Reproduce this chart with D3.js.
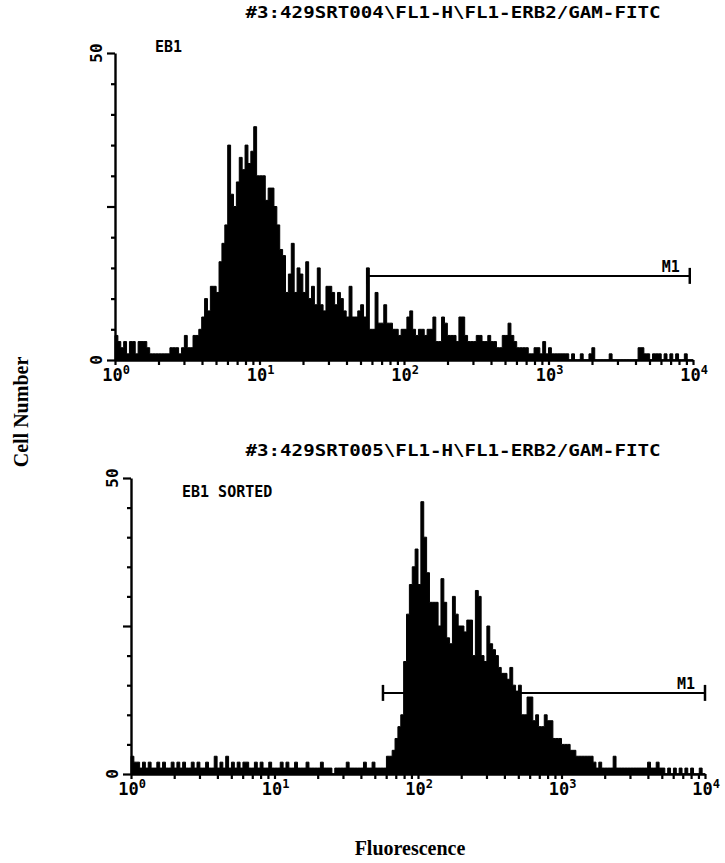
<!DOCTYPE html>
<html>
<head>
<meta charset="utf-8">
<script src="https://cdn.jsdelivr.net/npm/d3@7.9.0/dist/d3.min.js"></script>
<style>
  body { margin: 0; background: #fff; }
</style>
</head>
<body>
<script>
// histogram counts, 50 log bins per decade, 10^0 .. 10^4
const topCounts = [
  4,3,2,3,1,3,3,1,3,3,3,2,1,1,1,1,1,1,1,2,2,2,1,2,4,2,2,4,4,5,
  7,10,8,12,12,11,16,19,22,35,27,25,29,33,31,35,32,34,38,30,
  30,30,26,28,28,25,22,18,17,11,14,19,11,15,14,11,16,10,12,9,
  15,9,8,12,12,11,9,11,10,8,7,12,7,7,8,9,7,15,5,5,
  11,6,6,9,6,6,5,5,4,5,5,7,8,5,4,5,5,4,5,5,
  7,3,3,7,6,4,4,4,3,7,7,4,3,3,3,4,4,3,3,4,
  3,3,2,2,4,4,6,4,3,2,2,2,2,1,1,2,2,1,3,1,
  2,1,1,1,1,1,1,0,1,0,0,1,0,0,1,2,0,0,0,0,
  0,1,0,0,0,0,0,0,0,0,0,2,2,1,1,0,1,1,1,0,
  1,0,1,0,1,0,0,1,0,0
];
const bottomCounts = [
  3,2,2,1,2,1,2,1,1,2,1,2,1,1,2,1,2,1,2,1,
  1,2,1,2,1,1,2,1,1,3,1,2,1,3,1,2,1,2,1,2,
  2,1,1,2,1,2,1,1,2,1,1,1,2,1,2,1,1,2,1,1,
  1,2,1,1,1,1,2,1,1,1,0,1,1,1,1,2,1,1,1,1,
  1,2,1,1,2,1,1,1,1,3,3,4,6,8,10,19,27,32,35,38,
  32,46,40,34,29,29,29,25,33,29,23,22,30,27,25,25,24,26,26,20,
  31,30,20,19,25,22,21,20,18,17,17,16,18,15,14,15,10,10,13,13,
  9,10,8,8,10,9,9,6,6,6,5,5,5,4,4,3,3,3,3,3,
  3,2,1,2,1,1,1,1,3,1,1,1,1,1,1,1,1,1,1,1,
  2,1,1,2,1,1,0,1,0,1,0,1,0,1,0,1,0,0,1,0
];
const titles = ["#3:429SRT004\\FL1-H\\FL1-ERB2/GAM-FITC", "#3:429SRT005\\FL1-H\\FL1-ERB2/GAM-FITC"];
const sampleLabels = ["EB1", "EB1 SORTED"];
const gates = [[56, 9500], [57, 10000]];
const gateLevel = 13.7;
const gateName = "M1";
const decades = [0, 1, 2, 3, 4];
const countTicks = [0, 5, 10, 15, 20, 25, 30, 35, 40, 45, 50];
const countLabels = [0, 50];
const binsPerDecade = 50;

const W = 725, H = 863;
const mono = "'DejaVu Sans Mono', 'Liberation Mono', monospace";
const serif = "'Liberation Serif', 'DejaVu Serif', serif";

const svg = d3.select("body").append("svg")
  .attr("width", W).attr("height", H)
  .style("background", "#fff");

// panel frames
const panels = [
  { counts: topCounts, x0: 115, x1: 693, yTop: 53, yZero: 360, titleY: 18, labelX: 155, labelY: 52 },
  { counts: bottomCounts, x0: 131, x1: 705, yTop: 478, yZero: 774, titleY: 456, labelX: 182, labelY: 497 }
];

panels.forEach((p, k) => {
  const x = d3.scaleLog().domain([1, 1e4]).range([p.x0, p.x1]);
  const y = d3.scaleLinear().domain([0, 50]).range([p.yZero, p.yTop]);
  const g = svg.append("g");

  // histogram as a stepped filled area
  const bins = p.counts.map((v, i) => ({ lo: Math.pow(10, i / binsPerDecade), v }));
  bins.push({ lo: Math.pow(10, p.counts.length / binsPerDecade), v: p.counts[p.counts.length - 1] });
  const area = d3.area()
    .x(d => x(d.lo))
    .y0(y(0))
    .y1(d => y(d.v))
    .curve(d3.curveStepAfter);
  g.append("path")
    .datum(bins)
    .attr("d", area)
    .attr("fill", "#000")
    .attr("stroke", "#000")
    .attr("stroke-width", 1)
    .attr("stroke-linejoin", "miter");

  // x axis: log ticks below the line
  const logTicks = x.ticks();
  const xAxis = g.append("g")
    .attr("transform", `translate(0,${p.yZero})`)
    .call(d3.axisBottom(x).tickValues(logTicks).tickSize(5).tickSizeOuter(0).tickFormat(""));
  xAxis.select(".domain").attr("stroke-width", 2.4);
  xAxis.selectAll(".tick line").attr("stroke-width", 2.2);

  // y axis: ticks every 5 counts
  const yAxis = g.append("g")
    .attr("transform", `translate(${p.x0},0)`)
    .call(d3.axisLeft(y).tickValues(countTicks).tickSize(4).tickSizeOuter(0).tickFormat(""));
  yAxis.select(".domain").attr("stroke-width", 2.4);
  yAxis.selectAll(".tick line")
    .attr("stroke-width", 2.2)
    .attr("x2", d => (d % 25 === 0 ? -8 : -4));

  // decade labels 10^n
  decades.forEach(n => {
    const t = g.append("text")
      .attr("x", x(Math.pow(10, n)) + 1)
      .attr("y", p.yZero + 21)
      .attr("text-anchor", "middle")
      .attr("font-family", mono)
      .attr("font-weight", "bold")
      .attr("font-size", 17);
    t.append("tspan").text("10");
    t.append("tspan").attr("dy", -7).attr("font-size", 12).text(n);
  });

  // rotated count labels
  countLabels.forEach(c => {
    g.append("text")
      .attr("transform", `translate(${p.x0 - 13},${y(c)}) rotate(-90)`)
      .attr("text-anchor", "middle")
      .attr("font-family", mono)
      .attr("font-weight", "bold")
      .attr("font-size", 16)
      .text(c);
  });

  // title and sample name
  svg.append("text")
    .attr("x", 453).attr("y", p.titleY)
    .attr("text-anchor", "middle")
    .attr("font-family", mono)
    .attr("font-weight", "bold")
    .attr("font-size", 15)
    .attr("textLength", 415)
    .attr("lengthAdjust", "spacingAndGlyphs")
    .text(titles[k]);

  g.append("text")
    .attr("x", p.labelX).attr("y", p.labelY)
    .attr("font-family", mono)
    .attr("font-weight", "bold")
    .attr("font-size", 15)
    .text(sampleLabels[k]);

  // M1 gate marker
  const [ga, gb] = gates[k];
  const gy = y(gateLevel);
  g.append("line")
    .attr("x1", x(ga)).attr("x2", x(gb))
    .attr("y1", gy).attr("y2", gy)
    .attr("stroke", "#000").attr("stroke-width", 2);
  [ga, gb].forEach(v => {
    g.append("line")
      .attr("x1", x(v)).attr("x2", x(v))
      .attr("y1", gy - 8).attr("y2", gy + 8)
      .attr("stroke", "#000").attr("stroke-width", 2.5);
  });
  g.append("text")
    .attr("x", x(gb) - 10).attr("y", gy - 4)
    .attr("text-anchor", "end")
    .attr("font-family", mono)
    .attr("font-weight", "bold")
    .attr("font-size", 15)
    .text(gateName);
});

// shared axis titles
svg.append("text")
  .attr("transform", "translate(28,412) rotate(-90)")
  .attr("text-anchor", "middle")
  .attr("font-family", serif)
  .attr("font-weight", "bold")
  .attr("font-size", 20)
  .text("Cell Number");

svg.append("text")
  .attr("x", 410).attr("y", 855)
  .attr("text-anchor", "middle")
  .attr("font-family", serif)
  .attr("font-weight", "bold")
  .attr("font-size", 20)
  .text("Fluorescence");
</script>
</body>
</html>
